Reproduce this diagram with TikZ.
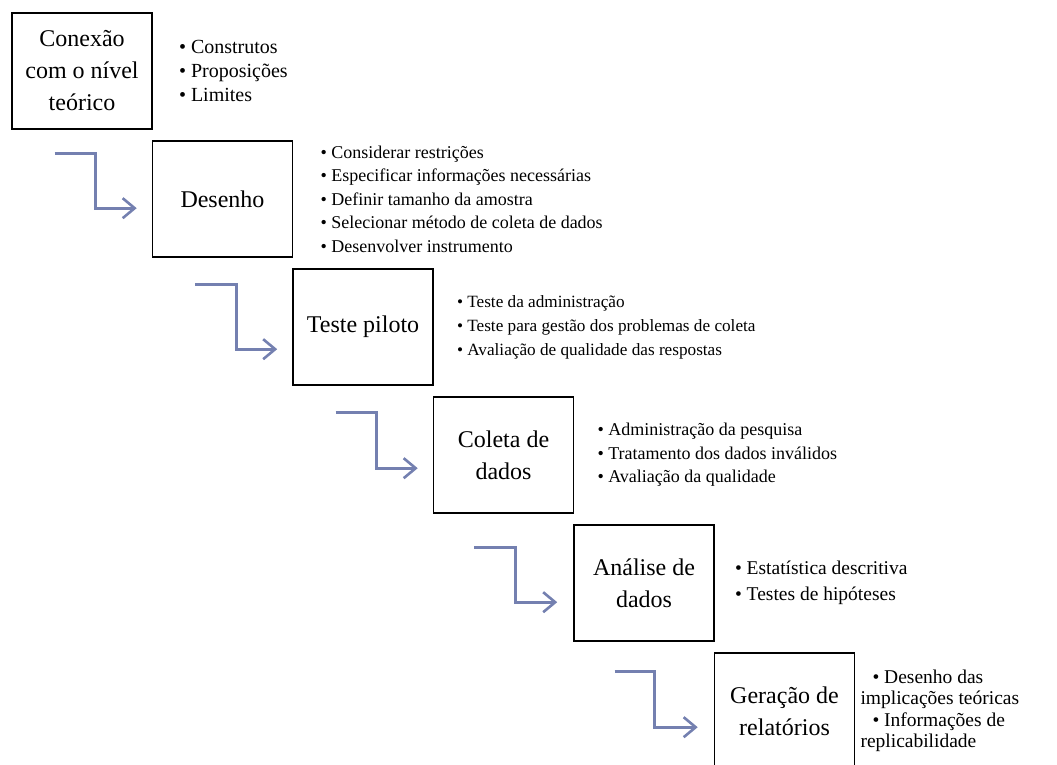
\documentclass[tikz,border=0pt]{standalone}
\usepackage{fontspec}
\setmainfont{Liberation Serif}
\usepackage{tikz}
\usetikzlibrary{arrows.meta,calc}
\definecolor{flowblue}{RGB}{116,128,176}

\begin{document}
\begin{tikzpicture}[x=1pt,y=1pt,
		etapa/.style={draw,line width=1.6pt,minimum width=140pt,minimum height=116pt,align=center,inner sep=2pt,font=\fontsize{24}{32}\selectfont},
		lista/.style={anchor=west,align=left,inner sep=0pt,font=\fontsize{18}{23.5}\selectfont},
		fluxo/.style={line width=2.6pt,color=flowblue,-{Straight Barb[length=12pt,width=20pt]}}]
				\useasboundingbox (0,0) rectangle (1057,-765);
				\node[etapa] (conexao) at (82,-71){Conexão\\com o nível\\teórico};
				\node[etapa] (desenho) at (222.5,-199){Desenho};
				\node[etapa] (piloto) at (363,-327){Teste piloto};
				\node[etapa] (coleta) at (503.5,-455){Coleta de\\dados};
				\node[etapa] (analise) at (644,-583){Análise de\\dados};
				\node[etapa] (relatorios) at (784.5,-711){Geração de\\relatórios};
				%\node at (82,-200){};
				\node[lista,font=\fontsize{20}{24}\selectfont] (lconexao) at ($(conexao.east)+(26,0)$){• Construtos\\• Proposições\\• Limites};
				\node[lista] (ldesenho) at ($(desenho.east)+(27,0)$){• Considerar restrições\\• Especificar informações necessárias\\• Definir tamanho da amostra\\• Selecionar método de coleta de dados\\• Desenvolver instrumento};
				\node[lista,font=\fontsize{17.2}{24}\selectfont] (lpiloto) at ($(piloto.east)+(23,0)$){• Teste da administração\\• Teste para gestão dos problemas de coleta\\• Avaliação de qualidade das respostas};
				\node[lista] (lcoleta) at ($(coleta.east)+(23,0)$){• Administração da pesquisa\\• Tratamento dos dados inválidos\\• Avaliação da qualidade};
				\node[lista,font=\fontsize{19.5}{26}\selectfont] (lanalise) at ($(analise.east)+(20,0)$){• Estatística descritiva\\• Testes de hipóteses};
				\node[lista,font=\fontsize{19.5}{21.5}\selectfont] (lrelatorios) at ($(relatorios.east)+(5,0)$){\hspace*{12pt}• Desenho das\\implicações teóricas\\\hspace*{12pt}• Informações de\\replicabilidade};
				\draw[fluxo] ($(desenho.north west)+(-97,-13)$) -| ($(desenho.north west)+(-56,-68)$) -- ($(desenho.north west)+(-15,-68)$);
				\draw[fluxo] ($(piloto.north west)+(-97,-16)$) -| ($(piloto.north west)+(-56,-81)$) -- ($(piloto.north west)+(-15,-81)$);
				\draw[fluxo] ($(coleta.north west)+(-97,-16)$) -| ($(coleta.north west)+(-56,-72)$) -- ($(coleta.north west)+(-15,-72)$);
				\draw[fluxo] ($(analise.north west)+(-99,-23)$) -| ($(analise.north west)+(-58,-78)$) -- ($(analise.north west)+(-16,-78)$);
				\draw[fluxo] ($(relatorios.north west)+(-99,-19)$) -| ($(relatorios.north west)+(-59,-75)$) -- ($(relatorios.north west)+(-16,-75)$);
			\end{tikzpicture}
\end{document}
